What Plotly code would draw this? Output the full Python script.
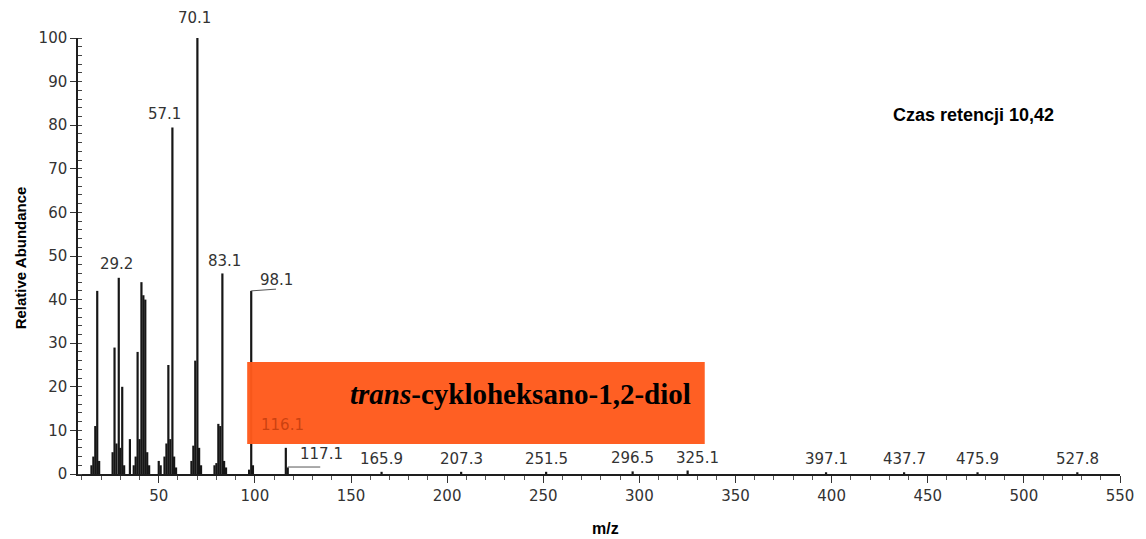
import plotly.graph_objects as go

# Mass spectrum of trans-cyclohexane-1,2-diol (EI), relative abundance vs m/z
mz = [15, 16, 17, 18, 19,
      26, 27, 28, 29.2, 30, 31, 32,
      35, 37, 38, 39, 40, 41, 42, 43, 44, 45,
      50, 51, 53, 54, 55, 56, 57.1, 58, 59,
      67, 68, 69, 70.1, 71, 72,
      79, 80, 81, 82, 83.1, 84, 85,
      97, 98.1, 99,
      116.1, 117.1, 165.9, 207.3, 251.5, 296.5, 325.1,
      397.1, 437.7, 475.9, 527.8]
abundance = [2, 4, 11, 42, 3,
             5, 29, 7, 45, 6, 20, 2,
             8, 2, 4, 28, 8, 44, 41, 40, 5, 2,
             3, 2, 4, 7, 25, 8, 79.5, 4, 1.5,
             3, 6.5, 26, 100, 6, 2,
             2, 2.5, 11.5, 11, 46, 3, 1.5,
             1, 42, 2,
             6, 1.5, 0.5, 0.5, 0.5, 0.6, 0.8,
             0.4, 0.4, 0.4, 0.4]

# labelled peaks (m/z value as printed)
main_labels = ["29.2", "57.1", "70.1", "83.1", "98.1", "116.1"]
minor_labels = ["117.1", "165.9", "207.3", "251.5", "296.5", "325.1",
                "397.1", "437.7", "475.9", "527.8"]

compound = "<i><b>trans</b></i><b>-cykloheksano-1,2-diol</b>"
retention = "<b>Czas retencji 10,42</b>"

height_of = dict(zip(mz, abundance))

# stick spectrum: one vertical segment per peak
xs, ys = [], []
for m, a in zip(mz, abundance):
    xs += [m, m, None]
    ys += [0, a, None]

fig = go.Figure()
fig.add_trace(go.Scatter(
    x=xs, y=ys, mode="lines",
    line=dict(color="#161616", width=2.2),
    hoverinfo="skip", showlegend=False, cliponaxis=False,
))

num_font = dict(family="DejaVu Sans", size=15, color="#333333")

# label offsets in pixels (x, y) relative to each peak top
main_shift = {
    "29.2": (-2, 14), "57.1": (-8, 13), "70.1": (-3, 20),
    "83.1": (2, 12), "98.1": (25, 11), "116.1": (-3, 23),
}
annotations = []
for lab in main_labels:
    v = float(lab)
    dx, dy = main_shift[lab]
    color = "rgba(185,55,10,0.75)" if lab == "116.1" else "#333333"
    annotations.append(dict(
        x=v, y=height_of[v], xref="x", yref="y", text=lab, showarrow=False,
        xanchor="center", yanchor="middle", xshift=dx, yshift=dy,
        font=dict(num_font, color=color),
    ))

minor_shift = {"117.1": 34, "325.1": 10}
for lab in minor_labels:
    v = float(lab)
    annotations.append(dict(
        x=v, y=height_of[v], xref="x", yref="y", text=lab, showarrow=False,
        xanchor="center", yanchor="middle", xshift=minor_shift.get(lab, 0),
        yshift=13, font=num_font,
    ))

annotations += [
    dict(x=328, y=18.4, xref="x", yref="y", text=compound, showarrow=False,
         xanchor="right", yanchor="middle",
         font=dict(family="Liberation Serif", size=29, color="#000000")),
    dict(x=474, y=82.3, xref="x", yref="y", text=retention, showarrow=False,
         xanchor="center", yanchor="middle",
         font=dict(family="Liberation Sans", size=18, color="#000000")),
    dict(x=-0.0555, y=0.495, xref="paper", yref="paper",
         text="<b>Relative Abundance</b>", textangle=-90, showarrow=False,
         xanchor="center", yanchor="middle",
         font=dict(family="Liberation Sans", size=15, color="#000000")),
    dict(x=0.506, y=-0.124, xref="paper", yref="paper", text="<b>m/z</b>",
         showarrow=False, xanchor="center", yanchor="middle",
         font=dict(family="Liberation Sans", size=16, color="#000000")),
]

shapes = [
    # highlighted compound name box
    dict(type="rect", xref="x", yref="y", x0=96, x1=334, y0=6.9, y1=25.7,
         fillcolor="#ff5a1c", opacity=0.97, line=dict(width=0), layer="above"),
    # leader lines under the 98.1 and 117.1 labels
    dict(type="line", xref="x", yref="y", x0=98.1, x1=111, y0=42, y1=42.4,
         line=dict(color="#555555", width=1)),
    dict(type="line", xref="x", yref="y", x0=117.1, x1=134, y0=1.6, y1=1.6,
         line=dict(color="#555555", width=1)),
]

fig.update_layout(
    width=1146, height=539,
    margin=dict(l=78, r=21, t=38, b=65),
    paper_bgcolor="white", plot_bgcolor="white",
    annotations=annotations, shapes=shapes,
    xaxis=dict(
        range=[8, 550], showgrid=False, zeroline=False,
        showline=True, linecolor="#1e1e1e", linewidth=2,
        tickmode="array", tickvals=[50, 100, 150, 200, 250, 300, 350, 400, 450, 500, 550],
        ticks="outside", ticklen=7, tickwidth=1.2, tickcolor="#333333",
        minor=dict(dtick=10, tick0=0, ticks="outside", ticklen=4, tickwidth=1,
                   tickcolor="#555555"),
        tickfont=num_font,
    ),
    yaxis=dict(
        range=[0, 100], showgrid=False, zeroline=False,
        showline=True, linecolor="#1e1e1e", linewidth=1.5,
        tickmode="linear", tick0=0, dtick=10,
        ticks="outside", ticklen=6, tickwidth=1.2, tickcolor="#333333",
        minor=dict(dtick=2, tick0=0, ticks="inside", ticklen=4, tickwidth=1,
                   tickcolor="#444444"),
        tickfont=num_font,
    ),
)

fig.write_html("out.html")
